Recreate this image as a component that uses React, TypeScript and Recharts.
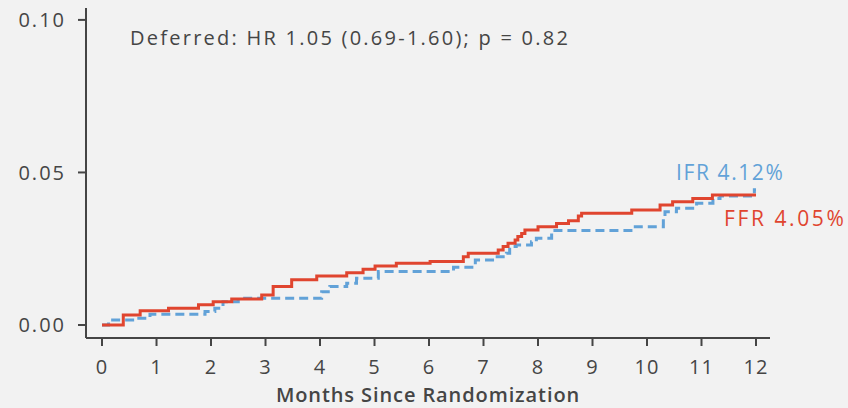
import { LineChart, Line, XAxis, YAxis } from "recharts"

// FFR (red, solid) step points: month of event, cumulative risk after it
const ffrMonths = [0, 0.39, 0.7, 1.22, 1.77, 2.04, 2.38, 2.93, 3.14, 3.48, 3.94, 4.49, 4.79, 5.01, 5.4, 6.02, 6.63, 6.72, 7.27, 7.36, 7.45, 7.58, 7.63, 7.7, 7.76, 8.0, 8.34, 8.56, 8.74, 8.8, 9.72, 10.24, 10.47, 10.84, 11.2, 12.0]
const ffrRisk = [0, 0.0033, 0.0047, 0.0055, 0.0066, 0.0076, 0.0085, 0.0098, 0.0126, 0.0148, 0.0161, 0.0171, 0.0183, 0.0193, 0.0202, 0.0208, 0.0224, 0.0235, 0.0246, 0.0257, 0.0268, 0.0279, 0.029, 0.03, 0.0311, 0.0322, 0.0333, 0.0342, 0.0357, 0.0366, 0.0377, 0.0393, 0.0404, 0.0415, 0.0426, 0.0426]

// iFR (blue, dashed)
const ifrMonths = [0, 0.12, 0.6, 0.88, 1.89, 2.07, 2.22, 2.5, 4.03, 4.18, 4.49, 4.67, 5.07, 6.45, 6.85, 7.2, 7.42, 7.48, 7.6, 7.88, 7.97, 8.25, 9.75, 10.3, 10.33, 10.54, 10.91, 11.21, 11.34, 11.97, 12.0]
const ifrRisk = [0, 0.0016, 0.0022, 0.0035, 0.0044, 0.0055, 0.0076, 0.0088, 0.0109, 0.0126, 0.0137, 0.0153, 0.0175, 0.0189, 0.0213, 0.0224, 0.0235, 0.0257, 0.0262, 0.0273, 0.0284, 0.031, 0.0322, 0.035, 0.0371, 0.0383, 0.0399, 0.0415, 0.0423, 0.0443, 0.0443]

const monthTicks = [0, 1, 2, 3, 4, 5, 6, 7, 8, 9, 10, 11, 12]
const riskTicks = [0, 0.05, 0.1]

const ffrData = ffrMonths.map((t, i) => ({ t, risk: ffrRisk[i] }))
const ifrData = ifrMonths.map((t, i) => ({ t, risk: ifrRisk[i] }))

const font = "'Open Sans', 'Noto Sans', sans-serif"
const axisColor = "#454545"
const red = "#e0452f"
const blue = "#62a2d8"

export default function App() {
  return (
    <div
      style={{
        position: "absolute",
        left: 0,
        top: 0,
        width: 848,
        height: 408,
        background: "#f2f2f2",
        fontFamily: font,
        overflow: "hidden",
      }}
    >
      <LineChart
        width={848}
        height={408}
        margin={{ top: 8, right: 78, bottom: 0, left: 0 }}
      >
        <XAxis
          type="number"
          dataKey="t"
          domain={[-0.294, 12.257]}
          allowDataOverflow
          ticks={monthTicks}
          stroke={axisColor}
          strokeWidth={2}
          tickSize={8}
          tickMargin={14}
          height={70}
          tick={{ fill: axisColor, fontSize: 20, fontFamily: font, letterSpacing: 1 }}
          label={{
            value: "Months Since Randomization",
            position: "insideBottom",
            offset: 6,
            fill: axisColor,
            fontSize: 20,
            fontWeight: 600,
            letterSpacing: 0.9,
            fontFamily: font,
          }}
        />
        <YAxis
          type="number"
          dataKey="risk"
          domain={[-0.00426, 0.1039]}
          allowDataOverflow
          ticks={riskTicks}
          tickFormatter={(v) => v.toFixed(2)}
          stroke={axisColor}
          strokeWidth={2}
          tickSize={8}
          tickMargin={12}
          width={86}
          tick={{ fill: axisColor, fontSize: 20, fontFamily: font, letterSpacing: 2 }}
        />
        <Line
          data={ifrData}
          dataKey="risk"
          type="stepAfter"
          stroke={blue}
          strokeWidth={3}
          strokeDasharray="9 5"
          dot={false}
          isAnimationActive={false}
        />
        <Line
          data={ffrData}
          dataKey="risk"
          type="stepAfter"
          stroke={red}
          strokeWidth={3}
          dot={false}
          isAnimationActive={false}
        />
      </LineChart>
      <div
        style={{
          position: "absolute",
          left: 130,
          top: 24,
          fontSize: 20,
          lineHeight: "28px",
          color: axisColor,
          letterSpacing: 2.25,
          whiteSpace: "nowrap",
        }}
      >
        Deferred: HR 1.05 (0.69-1.60); p = 0.82
      </div>
      <div
        style={{
          position: "absolute",
          left: 676,
          top: 158,
          fontSize: 21,
          lineHeight: "28px",
          color: blue,
          letterSpacing: 1.6,
          whiteSpace: "nowrap",
        }}
      >
        IFR 4.12%
      </div>
      <div
        style={{
          position: "absolute",
          left: 724,
          top: 204,
          fontSize: 21,
          lineHeight: "28px",
          color: red,
          letterSpacing: 2.6,
          whiteSpace: "nowrap",
        }}
      >
        FFR 4.05%
      </div>
    </div>
  )
}
